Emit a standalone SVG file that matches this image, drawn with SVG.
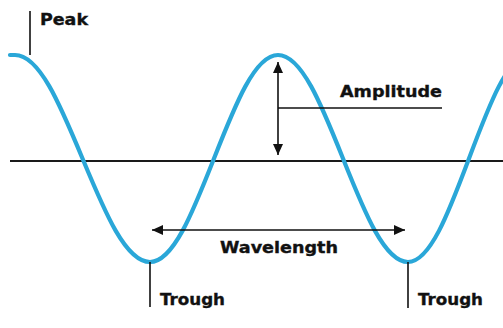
<svg xmlns="http://www.w3.org/2000/svg" width="503" height="328" viewBox="0 0 503 328">
<style>
.lbl{font-family:"DejaVu Sans","Verdana",sans-serif;font-weight:bold;font-size:15px;fill:#111;stroke:#111;stroke-width:0.35}
.ln{stroke:#111;stroke-width:1.6;fill:none}
.wave{stroke:#2aa7d8;stroke-width:4.2;fill:none;stroke-linecap:round}
</style>
<defs>
<marker id="ah" markerUnits="userSpaceOnUse" markerWidth="12" markerHeight="10" refX="11" refY="5" orient="auto-start-reverse">
<path d="M0,0 L11,5 L0,10 z" fill="#111"/>
</marker>
</defs>
<rect width="503" height="328" fill="#fff"/>
<g id="axis"><line x1="10" y1="161" x2="503" y2="161" stroke="#1a1a1a" stroke-width="2.2"/></g>
<g id="wave">
<path class="wave" d="M10,55 L15,55 C39.3,55 59.9,104.15 82.5,158.5 C105.1,212.85 125.7,262 150,262 C173.1,262 192.6,212.85 214,158.5 C235.4,104.15 254.9,55 278,55 C301.4,55 321.3,104.15 343,158.5 C364.7,212.85 384.6,262 408,262 C430,262 448.6,212.85 469,158.5 C489.4,104.15 508,55 530,55"/>
</g>
<g id="connectors">
<line class="ln" x1="30" y1="11" x2="30" y2="55"/>
<line class="ln" x1="278" y1="62" x2="278" y2="155" marker-start="url(#ah)" marker-end="url(#ah)"/>
<line class="ln" x1="278" y1="108" x2="442" y2="108"/>
<line class="ln" x1="152" y1="230" x2="405" y2="230" marker-start="url(#ah)" marker-end="url(#ah)"/>
<line class="ln" x1="150" y1="262" x2="150" y2="307"/>
<line class="ln" x1="408" y1="262" x2="408" y2="308"/>
</g>
<g id="peak"><text class="lbl" x="40" y="25" textLength="48" lengthAdjust="spacingAndGlyphs">Peak</text></g>
<g id="amplitude"><text class="lbl" x="340" y="97" textLength="102" lengthAdjust="spacingAndGlyphs">Amplitude</text></g>
<g id="wavelength"><text class="lbl" x="220" y="253" textLength="118" lengthAdjust="spacingAndGlyphs">Wavelength</text></g>
<g id="trough1"><text class="lbl" x="160" y="305" textLength="65" lengthAdjust="spacingAndGlyphs">Trough</text></g>
<g id="trough2"><text class="lbl" x="418" y="305" textLength="65" lengthAdjust="spacingAndGlyphs">Trough</text></g>
</svg>
